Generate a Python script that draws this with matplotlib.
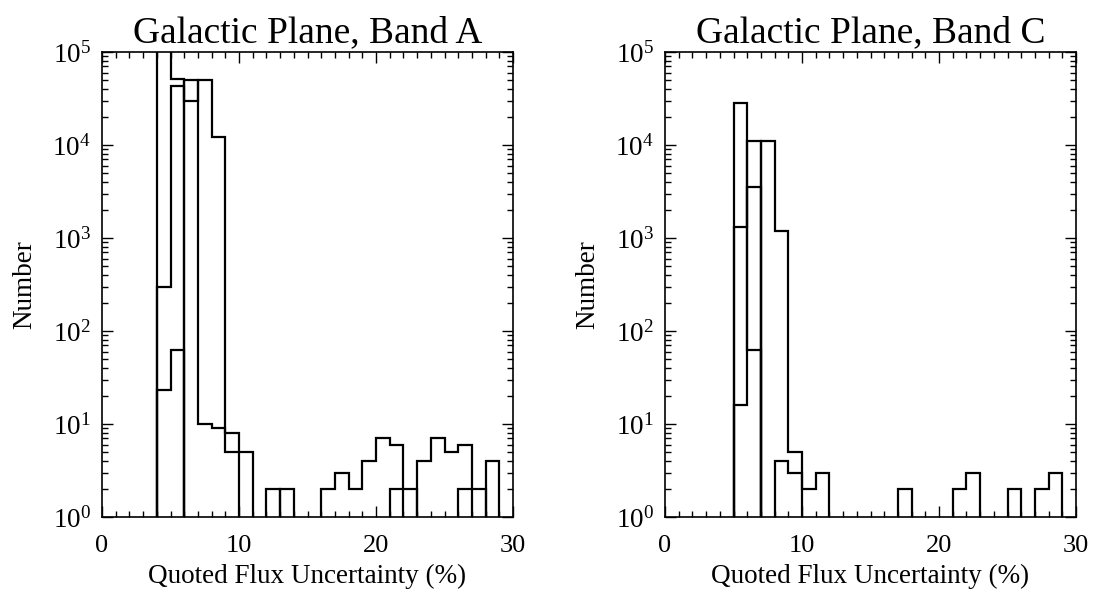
import numpy as np
import matplotlib
matplotlib.use("Agg")
import matplotlib.pyplot as plt
from matplotlib.ticker import MultipleLocator, LogLocator, NullFormatter, FixedLocator

# 1 %-wide bins from 0 to 30 %
bin_edges = np.arange(0, 31)
x_ticks = [0, 10, 20, 30]
y_ticks = [1e0, 1e1, 1e2, 1e3, 1e4, 1e5]

# Band A: overlaid histograms (counts per bin 0-1, 1-2, ..., 29-30)
band_a_1 = [0, 0, 0, 0, 250000, 51000, 0, 0, 0, 0,
            0, 0, 2, 0, 0, 0, 2, 3, 2, 4,
            7, 6, 0, 4, 7, 5, 6, 0, 0, 0]
band_a_2 = [0, 0, 0, 0, 300, 43000, 30000, 50000, 12300, 8,
            0, 0, 0, 0, 0, 0, 0, 0, 0, 0,
            0, 0, 0, 0, 0, 0, 0, 0, 0, 0]
band_a_3 = [0, 0, 0, 0, 23, 62, 0, 0, 0, 0,
            0, 0, 0, 0, 0, 0, 0, 0, 0, 0,
            0, 0, 0, 0, 0, 0, 2, 2, 0, 0]
band_a_4 = [0, 0, 0, 0, 0, 0, 50000, 10, 9, 5,
            5, 0, 0, 2, 0, 0, 0, 0, 0, 0,
            0, 2, 2, 0, 0, 0, 0, 0, 4, 0]

# Band C: overlaid histograms
band_c_1 = [0, 0, 0, 0, 0, 28000, 62, 0, 0, 0,
            0, 0, 0, 0, 0, 0, 0, 0, 0, 0,
            0, 0, 0, 0, 0, 0, 0, 0, 0, 0]
band_c_2 = [0, 0, 0, 0, 0, 1300, 3500, 0, 0, 0,
            0, 0, 0, 0, 0, 0, 0, 0, 0, 0,
            0, 0, 0, 0, 0, 0, 0, 0, 0, 0]
band_c_3 = [0, 0, 0, 0, 0, 16, 11000, 0, 0, 0,
            0, 0, 0, 0, 0, 0, 0, 0, 0, 0,
            0, 0, 0, 0, 0, 0, 0, 0, 0, 0]
band_c_4 = [0, 0, 0, 0, 0, 0, 0, 11000, 1200, 5,
            2, 3, 0, 0, 0, 0, 0, 0, 0, 0,
            0, 0, 0, 0, 0, 0, 0, 0, 0, 0]
band_c_5 = [0, 0, 0, 0, 0, 0, 0, 0, 4, 3,
            0, 0, 0, 0, 0, 0, 0, 2, 0, 0,
            0, 2, 3, 0, 0, 2, 0, 2, 3, 0]

titles = ["Galactic Plane, Band A", "Galactic Plane, Band C"]
xlabel = "Quoted Flux Uncertainty (%)"
ylabel = "Number"

plt.rcParams["font.family"] = "serif"
plt.rcParams["font.serif"] = ["Liberation Serif", "DejaVu Serif"]
plt.rcParams["mathtext.fontset"] = "custom"
plt.rcParams["mathtext.rm"] = "Liberation Serif"
plt.rcParams["mathtext.it"] = "Liberation Serif:italic"
plt.rcParams["mathtext.bf"] = "Liberation Serif:bold"

fig = plt.figure(figsize=(10.94, 5.92), dpi=100)
W, H = 1094, 592
ax_boxes = [(102, 52, 513, 517), (665, 52, 1076, 517)]

panels = [
    [band_a_1, band_a_2, band_a_3, band_a_4],
    [band_c_1, band_c_2, band_c_3, band_c_4, band_c_5],
]

floor = 0.05
for (l, t, r, b), series, title in zip(ax_boxes, panels, titles):
    ax = fig.add_axes([l / W, 1 - b / H, (r - l) / W, (b - t) / H])
    ax.set_yscale("log")
    for s in series:
        v = np.asarray(s, dtype=float)
        v = np.where(v > 0, v, floor)
        ax.stairs(v, bin_edges, baseline=floor, color="black", lw=1.6)
    ax.set_xlim(0, 30)
    ax.set_ylim(1, 1e5)
    ax.xaxis.set_major_locator(FixedLocator(x_ticks))
    ax.xaxis.set_minor_locator(MultipleLocator(1))
    ax.yaxis.set_major_locator(FixedLocator(y_ticks))
    ax.yaxis.set_minor_locator(LogLocator(base=10, subs=np.arange(2, 10), numticks=20))
    ax.yaxis.set_minor_formatter(NullFormatter())
    ax.set_yticklabels([r"$\mathdefault{10^{%d}}$" % int(np.log10(v)) for v in y_ticks])
    ax.tick_params(which="both", direction="in", top=True, right=True, width=1.0)
    ax.tick_params(which="major", length=8)
    ax.tick_params(which="minor", length=4)
    ax.tick_params(axis="x", which="major", labelsize=19, pad=13)
    ax.tick_params(axis="y", which="major", labelsize=19.5, pad=8)
    for sp in ax.spines.values():
        sp.set_linewidth(1.2)
    ax.set_title(title, fontsize=27, pad=7)
    ax.set_xlabel(xlabel, fontsize=19.5, labelpad=5)
    ax.set_ylabel(ylabel, fontsize=19.5, labelpad=11)

fig.savefig("out.png", dpi=100, facecolor="white")
